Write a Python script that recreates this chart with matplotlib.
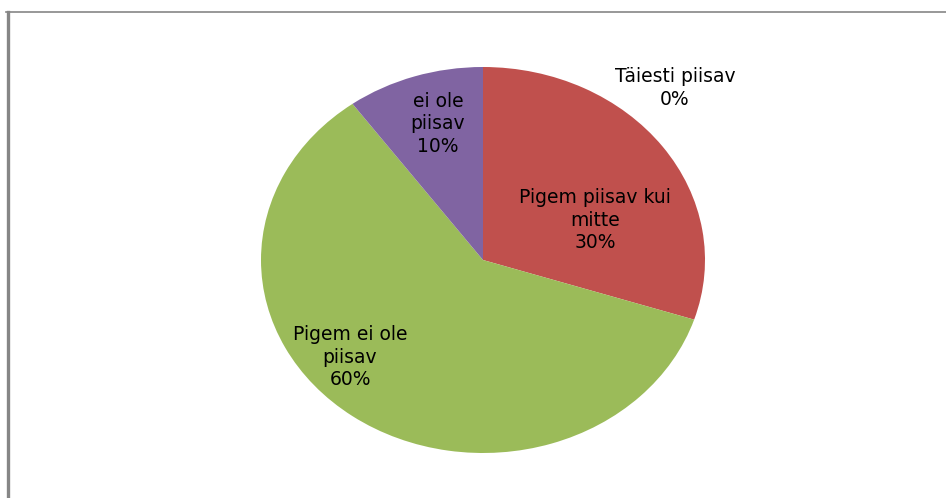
import matplotlib.pyplot as plt
from matplotlib.lines import Line2D

# Daten
categories = ["Täiesti piisav", "Pigem piisav kui\nmitte", "Pigem ei ole\npiisav", "ei ole\npiisav"]
values = [0, 30, 60, 10]
colors = ["#4F81BD", "#C0504D", "#9BBB59", "#8064A2"]
# Label-Positionen (normierte Pie-Koordinaten)
label_pos = [(0.865, 0.89), (0.505, 0.207), (-0.599, -0.503), (-0.203, 0.705)]

W, H = 946, 498
fig = plt.figure(figsize=(W / 100, H / 100), dpi=100)

# Rahmen (links dick, oben dünn)
fig.add_artist(Line2D([7.5 / W, 7.5 / W], [0, 1 - 12.5 / H], color="#868686", linewidth=2.4,
                      transform=fig.transFigure))
fig.add_artist(Line2D([6 / W, 1], [1 - 12.5 / H, 1 - 12.5 / H], color="#868686", linewidth=1.2,
                      transform=fig.transFigure))

# Elliptischer Kuchen: Achse exakt auf die Ellipse legen
cx, cy, rx, ry = 483, 260, 222, 193
ax = fig.add_axes([(cx - rx) / W, (H - cy - ry) / H, 2 * rx / W, 2 * ry / H])
ax.pie(values, colors=colors, startangle=90, counterclock=False, radius=1,
       wedgeprops=dict(linewidth=0))
ax.set_aspect("auto")
ax.set_xlim(-1, 1)
ax.set_ylim(-1, 1)
ax.axis("off")

total = sum(values)
for cat, v, (x, y) in zip(categories, values, label_pos):
    pct = f"{round(100 * v / total)}%"
    ax.text(x, y, f"{cat}\n{pct}", ha="center", va="center", fontsize=13.5,
            linespacing=1.25, color="black", family="DejaVu Sans", clip_on=False)

plt.savefig("out.png", dpi=100)
plt.close(fig)
